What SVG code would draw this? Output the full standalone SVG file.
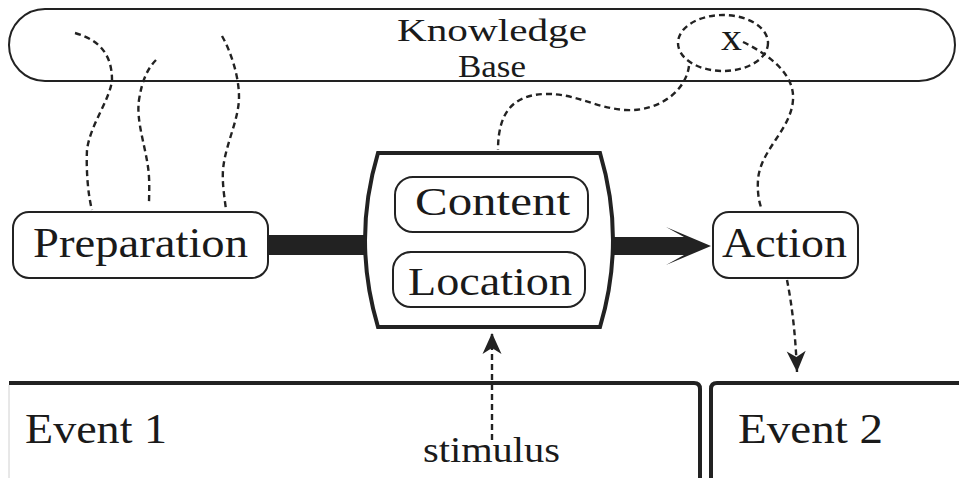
<svg xmlns="http://www.w3.org/2000/svg" width="959" height="478" viewBox="0 0 959 478">
<defs>
<style>
.t{font-family:"Liberation Serif","Times New Roman","DejaVu Serif",serif;fill:#1a1a1a;}
.box{fill:#fff;stroke:#222;stroke-width:2;}
.dash{fill:none;stroke:#222;stroke-width:2.4;stroke-dasharray:6 4;}
.panel{fill:none;stroke:#222;stroke-width:4;}
</style>
<marker id="ah" markerUnits="userSpaceOnUse" markerWidth="24" markerHeight="24" viewBox="-22 -11 24 22" refX="0" refY="0" orient="auto">
<path d="M0,0 L-21,-9.5 L-15,0 L-21,9.5 Z" fill="#222"/>
</marker>
</defs>
<rect width="959" height="478" fill="#fff"/>

<g id="knowledge-base">
<rect x="9" y="9" width="946" height="72" rx="36" class="box"/>
<text class="t" x="397" y="41" font-size="32" textLength="190" lengthAdjust="spacingAndGlyphs">Knowledge</text>
<text class="t" x="458" y="77" font-size="32" textLength="68" lengthAdjust="spacingAndGlyphs">Base</text>
<text class="t" x="721" y="50" font-size="38" textLength="21" lengthAdjust="spacingAndGlyphs">x</text>
</g>

<g id="connectors">
<ellipse cx="723" cy="43" rx="45" ry="28" class="dash"/>
<path class="dash" d="M75,33 C100,40 112,55 112,80 C110,100 90,125 87,150 C86,170 88,195 92,210"/>
<path class="dash" d="M156,60 C148,68 142,80 139,100 C136,120 145,145 148,167 C150,180 149,195 149,204"/>
<path class="dash" d="M222,36 C230,50 239,75 239,97 C239,120 225,145 223,170 C222,185 225,200 226,210"/>
<path class="dash" d="M689,66 C686,90 660,112 625,110 C595,108 575,93 545,94 C515,95 498,110 498,150"/>
<path class="dash" d="M743,42 C770,55 795,75 793,100 C791,130 760,150 758,180 C757,195 760,205 762,210"/>
<path class="dash" d="M787,280 Q795,320 797,372" marker-end="url(#ah)"/>
<path class="dash" d="M492,440 L492,333" marker-end="url(#ah)"/>
<rect x="262" y="235" width="110" height="20" fill="#222"/>
<path d="M608,237 L684,237 L666,227 L711,246 L666,265 L684,255 L608,255 Z" fill="#222"/>
</g>

<g id="preparation">
<rect x="13" y="212" width="255" height="66" rx="16" class="box"/>
<text class="t" x="33" y="257" font-size="42" textLength="215" lengthAdjust="spacingAndGlyphs">Preparation</text>
</g>

<g id="stimulus-box">
<path d="M378,153 L600,153 Q626,240 600,327 L378,327 Q352,240 378,153 Z" fill="#fff" stroke="#222" stroke-width="4"/>
</g>

<g id="content">
<rect x="395" y="177" width="193" height="55" rx="18" class="box"/>
<text class="t" x="415" y="215" font-size="40" textLength="155" lengthAdjust="spacingAndGlyphs">Content</text>
</g>

<g id="location">
<rect x="393" y="252" width="192" height="55" rx="18" class="box"/>
<text class="t" x="408" y="295" font-size="40" textLength="164" lengthAdjust="spacingAndGlyphs">Location</text>
</g>

<g id="action">
<rect x="713" y="212" width="145" height="66" rx="16" class="box"/>
<text class="t" x="722" y="257" font-size="42" textLength="125" lengthAdjust="spacingAndGlyphs">Action</text>
</g>

<g id="event-1">
<line x1="9" y1="385" x2="9" y2="478" stroke="#d0d0d0" stroke-width="1"/>
<path class="panel" d="M9,383 L694,383 Q700,383 700,389 L700,478"/>
<text class="t" x="25" y="443" font-size="42" textLength="142" lengthAdjust="spacingAndGlyphs">Event 1</text>
</g>

<g id="event-2">
<path class="panel" d="M711,478 L711,389 Q711,383 717,383 L959,383"/>
<text class="t" x="738" y="443" font-size="42" textLength="145" lengthAdjust="spacingAndGlyphs">Event 2</text>
</g>

<g id="stimulus-label">
<text class="t" x="423" y="462" font-size="36" textLength="137" lengthAdjust="spacingAndGlyphs">stimulus</text>
</g>
</svg>
